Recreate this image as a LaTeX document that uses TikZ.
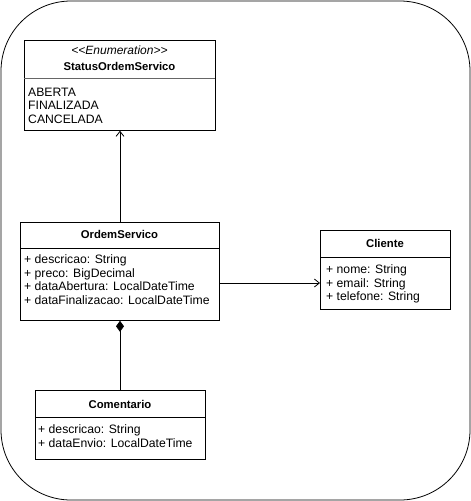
\documentclass[tikz,border=0pt]{standalone}
\usepackage{fontspec}
\setmainfont{Liberation Sans}
\usetikzlibrary{arrows.meta}
\begin{document}
\begin{tikzpicture}[x=1pt,y=-1pt,
        classbox/.style={draw,line width=0.8pt,anchor=north west,inner sep=0pt},
        classtitle/.style={font=\fontsize{11.3}{13}\selectfont\bfseries,inner sep=0pt},
        stereotype/.style={font=\fontsize{12}{13}\selectfont\itshape,inner sep=0pt},
        attrlist/.style={font=\fontsize{12.2}{13.7}\selectfont,align=left,anchor=north west,inner sep=0pt},
        divider/.style={line width=0.4pt,black!60},
        link/.style={line width=0.8pt}]
        \useasboundingbox (0,0) rectangle (471,501);
        \draw[line width=0.8pt,rounded corners=70pt] (1,1) rectangle (470,500);
        % enumeration
        \node[classbox,minimum width=191pt,minimum height=90pt] (status) at (24,40) {};
        \node[stereotype] (statusStereo) at (119.5,50) {<{}<Enumeration>{}>};
        \node[classtitle] (statusTitle) at (119.5,66) {StatusOrdemServico};
        \draw[divider] (24,78) -- (215,78);
        \node[attrlist] (statusAttrs) at (28,87.5) {ABERTA\\FINALIZADA\\CANCELADA};
        % ordem de servico
        \node[classbox,minimum width=199pt,minimum height=98pt] (ordem) at (20,222) {};
        \node[classtitle] (ordemTitle) at (119.5,234) {OrdemServico};
        \draw[link] (20,248) -- (219,248);
        \node[attrlist] (ordemAttrs) at (24,254.5) {+ descricao: String\\+ preco: BigDecimal\\+ dataAbertura: LocalDateTime\\+ dataFinalizacao: LocalDateTime};
        % cliente
        \node[classbox,minimum width=130pt,minimum height=79pt] (cliente) at (320,230) {};
        \node[classtitle] (clienteTitle) at (385,243) {Cliente};
        \draw[link] (320,257) -- (450,257);
        \node[attrlist] (clienteAttrs) at (326,264.5) {+ nome: String\\+ email: String\\+ telefone: String};
        % comentario
        \node[classbox,minimum width=170pt,minimum height=69pt] (comentario) at (35,390) {};
        \node[classtitle] (comentarioTitle) at (120,404) {Comentario};
        \draw[link] (35,417) -- (205,417);
        \node[attrlist] (comentarioAttrs) at (38,424.5) {+ descricao: String\\+ dataEnvio: LocalDateTime};
        % relacoes
        \coordinate (clienteLink) at (0,283);
        \draw[link,-{Straight Barb[length=5pt,width=8pt]}] (ordem.north -| 120,0) -- (status.south -| 120,0);
        \draw[link,-{Straight Barb[length=5pt,width=8pt]}] (ordem.east |- clienteLink) -- (cliente.west |- clienteLink);
        \draw[link,{Diamond[length=11pt,width=8pt]}-] (ordem.south -| 120,0) -- (comentario.north -| 120,0);
\end{tikzpicture}
\end{document}
